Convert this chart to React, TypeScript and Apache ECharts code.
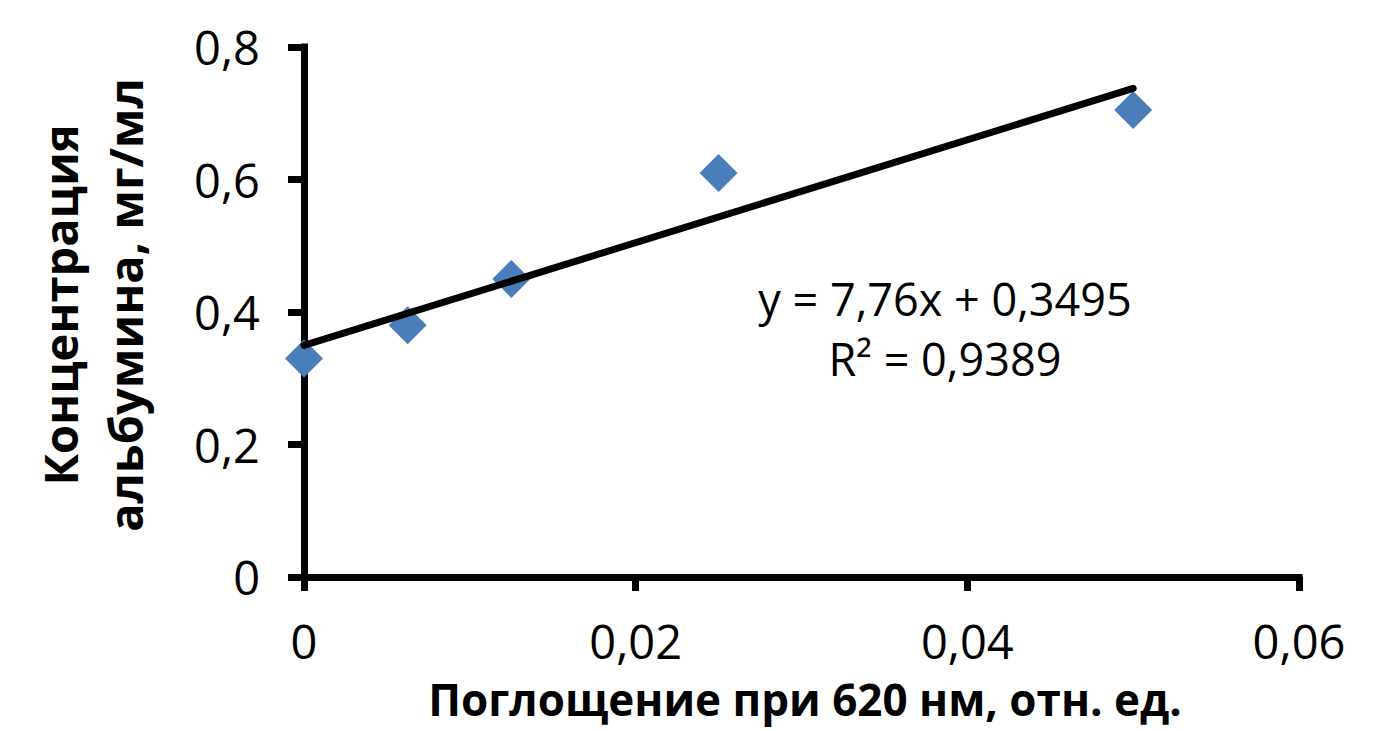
import React, { useEffect, useRef } from "react";
import * as echarts from "echarts";

const absorbance = [0, 0.00625, 0.0125, 0.025, 0.05];
const concentration = [0.33, 0.38, 0.45, 0.61, 0.705];
const slope = 7.76;
const intercept = 0.3495;
const trendX = [0, 0.05];
const equationText = "y = 7,76x + 0,3495";
const r2Text = "R² = 0,9389";
const xTitle = "Поглощение при 620 нм, отн. ед.";
const yTitleLines = ["Концентрация", "альбумина, мг/мл"];

const FONT = "'Open Sans', sans-serif";

const fmt = (v: number) => (v === 0 ? "0" : String(+v.toFixed(3)).replace(".", ","));

export default function App() {
  const ref = useRef<HTMLDivElement>(null);
  useEffect(() => {
    if (!ref.current) return;
    const chart = echarts.init(ref.current, null, { renderer: "svg" });
    const points = absorbance.map((x, i) => [x, concentration[i]]);
    const trend = trendX.map((x) => [x, slope * x + intercept]);
    chart.setOption({
      animation: false,
      backgroundColor: "#ffffff",
      grid: { left: 304, right: 90, top: 47, bottom: 154, containLabel: false },
      xAxis: {
        type: "value",
        min: 0,
        max: 0.06,
        interval: 0.02,
        splitLine: { show: false },
        axisLine: { show: true, onZero: false, lineStyle: { color: "#000", width: 7, cap: "square" } },
        axisTick: { show: true, inside: false, length: 14, lineStyle: { color: "#000", width: 7 } },
        axisLabel: { color: "#000", fontFamily: FONT, fontSize: 47, margin: 40, formatter: fmt },
      },
      yAxis: {
        type: "value",
        min: 0,
        max: 0.8,
        interval: 0.2,
        splitLine: { show: false },
        axisLine: { show: true, onZero: false, lineStyle: { color: "#000", width: 7, cap: "square" } },
        axisTick: { show: true, inside: false, length: 16, lineStyle: { color: "#000", width: 7 } },
        axisLabel: { color: "#000", fontFamily: FONT, fontSize: 47, margin: 44, formatter: fmt },
      },
      series: [
        {
          type: "scatter",
          data: points,
          symbol: "diamond",
          symbolSize: 38,
          itemStyle: { color: "#4A7EBB", opacity: 1 },
          z: 3,
        },
        {
          type: "line",
          data: trend,
          showSymbol: false,
          symbol: "none",
          lineStyle: { color: "#000", width: 7, cap: "round" },
          z: 4,
        },
      ],
      graphic: [
        {
          type: "text",
          x: 92,
          y: 305,
          rotation: Math.PI / 2,
          style: {
            text: yTitleLines.join("\n"),
            fontFamily: FONT,
            fontWeight: "bold",
            fontSize: 47,
            lineHeight: 65,
            fill: "#000",
            align: "center",
            verticalAlign: "middle",
          },
        },
        {
          type: "text",
          x: 805,
          y: 699,
          style: {
            text: xTitle,
            fontFamily: FONT,
            fontWeight: "bold",
            fontSize: 44,
            lineHeight: 44,
            fill: "#000",
            align: "center",
            verticalAlign: "middle",
          },
        },
        {
          type: "text",
          x: 945,
          y: 328,
          style: {
            text: equationText + "\n" + r2Text,
            fontFamily: FONT,
            fontSize: 45,
            lineHeight: 60,
            fill: "#000",
            align: "center",
            verticalAlign: "middle",
          },
        },
      ],
    });
    return () => chart.dispose();
  }, []);
  return (
    <div
      ref={ref}
      style={{ position: "absolute", left: 0, top: 0, width: 1389, height: 731, background: "#fff" }}
    />
  );
}
